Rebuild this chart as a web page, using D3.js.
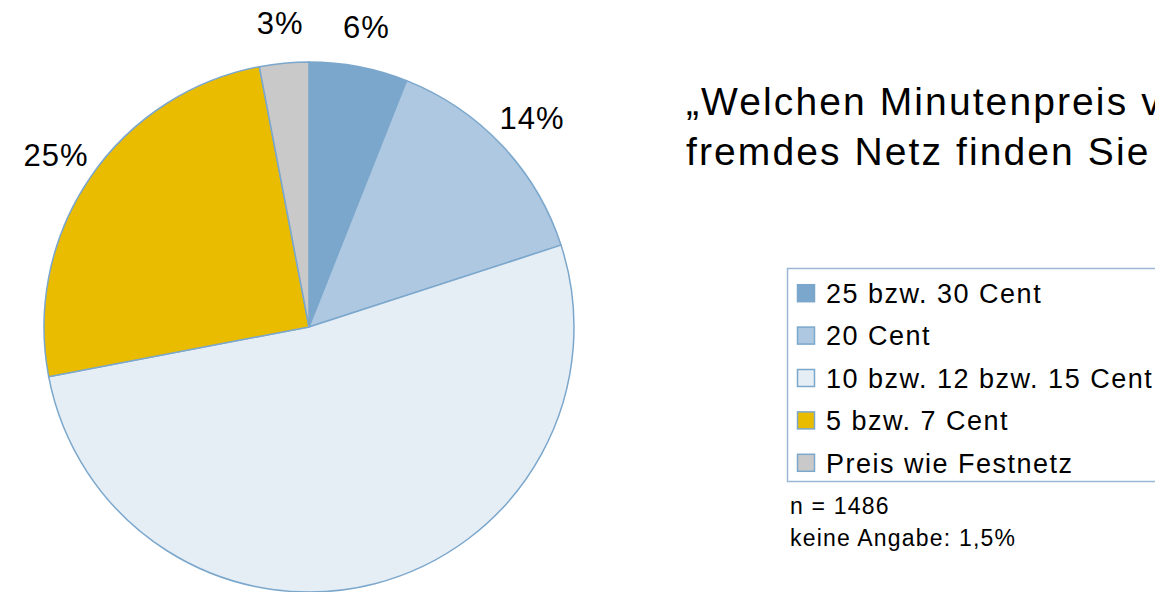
<!DOCTYPE html>
<html>
<head>
    <meta charset="utf-8">
    <title>Minutenpreis Pie Chart</title>
    <script src="https://d3js.org/d3.v7.min.js"></script>
    <style>
        body { margin: 0; background: #fff; }
        svg { display: block; font-family: "Liberation Sans", Arial, sans-serif; }
    </style>
</head>
<body>
    <div class="chart"></div>
    <script>
        // Data
        const categories = ["25 bzw. 30 Cent", "20 Cent", "10 bzw. 12 bzw. 15 Cent", "5 bzw. 7 Cent", "Preis wie Festnetz"];
        const values = [6, 14, 52, 25, 3];
        const colors = ["#7ba7cc", "#adc8e0", "#e5edf5", "#e9bc00", "#c9c9c9"];
        const titleLines = ["„Welchen Minutenpreis von Ihrem Handy in ein", "fremdes Netz finden Sie fair?“"];
        const notes = ["n = 1486", "keine Angabe: 1,5%"];

        const width = 1155, height = 592;
        const cx = 309, cy = 327, radius = 265;

        const svg = d3.select(".chart")
            .append("svg")
            .attr("width", width)
            .attr("height", height);

        const data = categories.map((c, i) => ({ name: c, value: values[i], color: colors[i] }));

        // Pie
        const pie = d3.pie().value(d => d.value).sort(null);
        const arc = d3.arc().innerRadius(0).outerRadius(radius);
        const labelArc = d3.arc().innerRadius(306).outerRadius(306);

        const g = svg.append("g").attr("transform", `translate(${cx}, ${cy})`);

        g.selectAll("path")
            .data(pie(data))
            .enter()
            .append("path")
            .attr("d", arc)
            .attr("fill", d => d.data.color)
            .attr("stroke", "#7ba7cc")
            .attr("stroke-width", 1.5);

        g.selectAll(".label")
            .data(pie(data))
            .enter()
            .append("text")
            .attr("class", "label")
            .attr("transform", d => `translate(${labelArc.centroid(d)})`)
            .attr("text-anchor", "middle")
            .attr("dy", "0.36em")
            .attr("font-size", 31)
            .attr("letter-spacing", 1)
            .text(d => d.data.value + "%");

        // Title (runs off the right edge, as in the original)
        svg.append("g")
            .selectAll("text")
            .data(titleLines)
            .enter()
            .append("text")
            .attr("x", 686)
            .attr("y", (d, i) => 115 + i * 50)
            .attr("font-size", 39)
            .attr("letter-spacing", 2.1)
            .text(d => d);

        // Legend
        const legendY = d3.scaleBand()
            .domain(categories)
            .range([272, 484]);

        const legend = svg.append("g");
        legend.append("rect")
            .attr("x", 787.5)
            .attr("y", 268.5)
            .attr("width", 400)
            .attr("height", 213)
            .attr("fill", "none")
            .attr("stroke", "#9ab8d6")
            .attr("stroke-width", 1.5);

        const items = legend.selectAll(".item")
            .data(data)
            .enter()
            .append("g")
            .attr("class", "item")
            .attr("transform", d => `translate(797, ${legendY(d.name) + legendY.bandwidth() / 2})`);

        items.append("rect")
            .attr("x", 0.5)
            .attr("y", -8.5)
            .attr("width", 17)
            .attr("height", 17)
            .attr("fill", d => d.color)
            .attr("stroke", "#7ba7cc")
            .attr("stroke-width", 1.5);

        items.append("text")
            .attr("x", 29)
            .attr("dy", "0.36em")
            .attr("font-size", 27)
            .attr("letter-spacing", 1.5)
            .text(d => d.name);

        // Notes
        svg.append("g")
            .selectAll("text")
            .data(notes)
            .enter()
            .append("text")
            .attr("x", 790)
            .attr("y", (d, i) => 514 + i * 32)
            .attr("font-size", 23)
            .attr("letter-spacing", 1.2)
            .text(d => d);
    </script>
</body>
</html>
